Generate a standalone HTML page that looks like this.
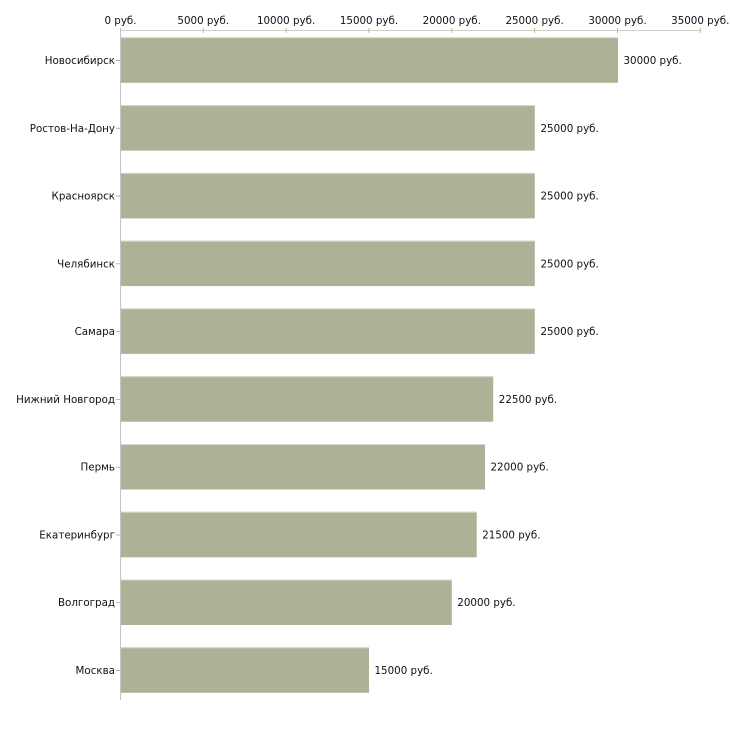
<!DOCTYPE html>
<html><head><meta charset="utf-8"><style>
html,body{margin:0;padding:0;background:#fff;}
svg{display:block;}
text{font-family:"DejaVu Sans","Liberation Sans",sans-serif;font-size:10.3px;fill:#111;}
</style></head><body>
<svg width="730" height="730" viewBox="0 0 730 730" xmlns="http://www.w3.org/2000/svg">
<rect width="730" height="730" fill="#fff"/>
<!-- top axis -->
<line x1="120" y1="30.5" x2="701" y2="30.5" stroke="#cfcfc4" stroke-width="1"/>
<g stroke="#b8b994" stroke-width="1">
<line x1="120.5" y1="28" x2="120.5" y2="33"/>
<line x1="203.3" y1="28" x2="203.3" y2="33"/>
<line x1="286.1" y1="28" x2="286.1" y2="33"/>
<line x1="369" y1="28" x2="369" y2="33"/>
<line x1="451.8" y1="28" x2="451.8" y2="33"/>
<line x1="534.6" y1="28" x2="534.6" y2="33"/>
<line x1="617.5" y1="28" x2="617.5" y2="33"/>
<line x1="700.3" y1="28" x2="700.3" y2="33"/>
</g>
<g text-anchor="middle">
<text x="120.5" y="24">0 руб.</text>
<text x="203.3" y="24">5000 руб.</text>
<text x="286.1" y="24">10000 руб.</text>
<text x="369" y="24">15000 руб.</text>
<text x="451.8" y="24">20000 руб.</text>
<text x="534.6" y="24">25000 руб.</text>
<text x="617.5" y="24">30000 руб.</text>
<text x="700.3" y="24">35000 руб.</text>
</g>
<!-- left axis -->
<line x1="120.5" y1="30" x2="120.5" y2="700" stroke="#c4c4c4" stroke-width="1"/>
<!-- bars -->
<g fill="#adb297">
<rect x="121" y="37.3" width="497" height="45.5"/>
<rect x="121" y="105.1" width="413.8" height="45.5"/>
<rect x="121" y="172.9" width="413.8" height="45.5"/>
<rect x="121" y="240.6" width="413.8" height="45.5"/>
<rect x="121" y="308.4" width="413.8" height="45.5"/>
<rect x="121" y="376.2" width="372.2" height="45.5"/>
<rect x="121" y="444" width="364" height="45.5"/>
<rect x="121" y="511.8" width="355.7" height="45.5"/>
<rect x="121" y="579.5" width="330.8" height="45.5"/>
<rect x="121" y="647.3" width="248" height="45.5"/>
</g>
<g stroke="#d6d8cc" stroke-width="1">
<line x1="121" y1="37.8" x2="618" y2="37.8"/>
<line x1="121" y1="105.6" x2="534.8" y2="105.6"/>
<line x1="121" y1="173.4" x2="534.8" y2="173.4"/>
<line x1="121" y1="241.1" x2="534.8" y2="241.1"/>
<line x1="121" y1="308.9" x2="534.8" y2="308.9"/>
<line x1="121" y1="376.7" x2="493.2" y2="376.7"/>
<line x1="121" y1="444.5" x2="485" y2="444.5"/>
<line x1="121" y1="512.3" x2="476.7" y2="512.3"/>
<line x1="121" y1="580" x2="451.8" y2="580"/>
<line x1="121" y1="647.8" x2="369" y2="647.8"/>
</g>
<!-- category ticks -->
<g stroke="#b8b994" stroke-width="1">
<line x1="116" y1="60.5" x2="120" y2="60.5"/>
<line x1="116" y1="128.3" x2="120" y2="128.3"/>
<line x1="116" y1="196.1" x2="120" y2="196.1"/>
<line x1="116" y1="263.8" x2="120" y2="263.8"/>
<line x1="116" y1="331.6" x2="120" y2="331.6"/>
<line x1="116" y1="399.4" x2="120" y2="399.4"/>
<line x1="116" y1="467.2" x2="120" y2="467.2"/>
<line x1="116" y1="535" x2="120" y2="535"/>
<line x1="116" y1="602.7" x2="120" y2="602.7"/>
<line x1="116" y1="670.5" x2="120" y2="670.5"/>
</g>
<!-- category labels -->
<g text-anchor="end">
<text x="115" y="64">Новосибирск</text>
<text x="115" y="131.8">Ростов-На-Дону</text>
<text x="115" y="199.6">Красноярск</text>
<text x="115" y="267.3">Челябинск</text>
<text x="115" y="335.1">Самара</text>
<text x="115" y="402.9">Нижний Новгород</text>
<text x="115" y="470.7">Пермь</text>
<text x="115" y="538.5">Екатеринбург</text>
<text x="115" y="606.2">Волгоград</text>
<text x="115" y="674">Москва</text>
</g>
<!-- value labels -->
<g>
<text x="623.5" y="64">30000 руб.</text>
<text x="540.5" y="131.8">25000 руб.</text>
<text x="540.5" y="199.6">25000 руб.</text>
<text x="540.5" y="267.3">25000 руб.</text>
<text x="540.5" y="335.1">25000 руб.</text>
<text x="498.8" y="402.9">22500 руб.</text>
<text x="490.5" y="470.7">22000 руб.</text>
<text x="482.2" y="538.5">21500 руб.</text>
<text x="457.3" y="606.2">20000 руб.</text>
<text x="374.5" y="674">15000 руб.</text>
</g>
</svg>
</body></html>
